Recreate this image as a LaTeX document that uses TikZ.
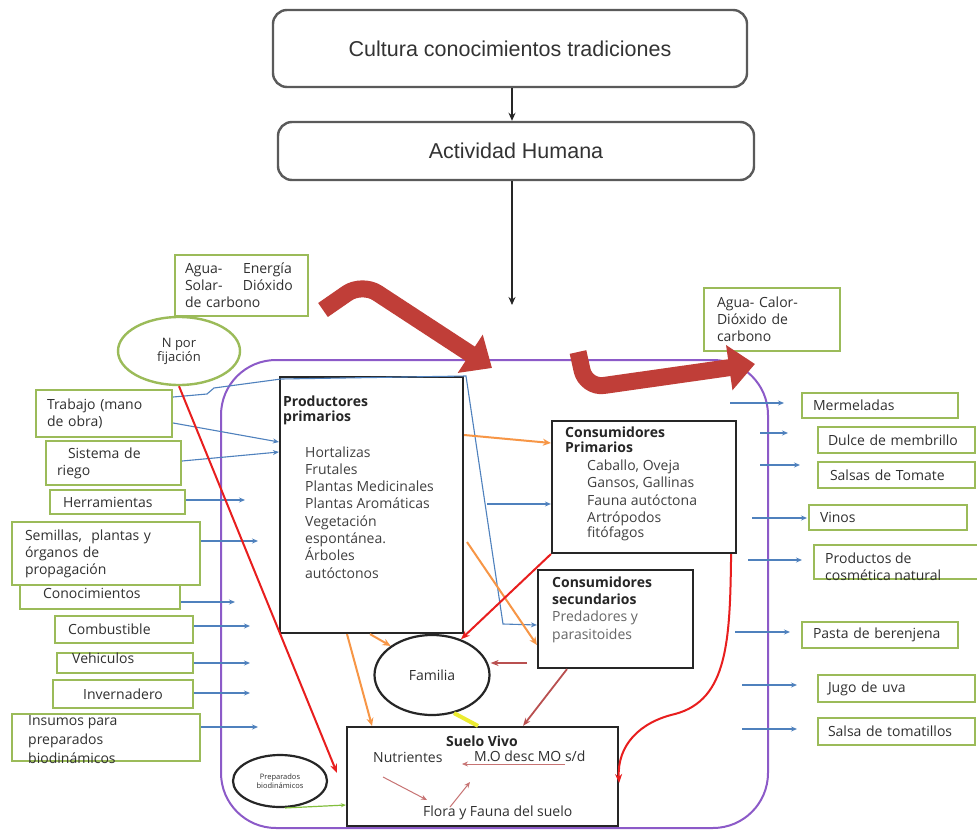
\documentclass[tikz,border=0pt]{standalone}
\usepackage{fontspec}
\setmainfont{Open Sans}
\newfontfamily\arialf{Liberation Sans}
\usetikzlibrary{arrows.meta,shapes.geometric,calc}
\definecolor{gboxc}{HTML}{9BBB59}
\definecolor{bluel}{HTML}{4F81BD}
\definecolor{orangel}{HTML}{F79646}
\definecolor{purp}{RGB}{140,90,200}
\definecolor{redl}{RGB}{232,30,30}
\definecolor{bigred}{RGB}{192,62,56}
\definecolor{brownl}{RGB}{185,80,80}
\definecolor{yell}{RGB}{236,236,50}
\definecolor{greenl}{RGB}{130,190,60}
\definecolor{txtg}{RGB}{48,48,48}
\definecolor{boxg}{RGB}{90,90,90}
% name L R T B pad options text
\newcommand\gbx[8]{%
  \pgfmathsetmacro\gbtw{#3-#2-2*#6}%
  \node[gb, inner xsep=#6pt, text width=\gbtw pt, minimum height={#5-#4}, #7] (#1) at ({(#2+#3)/2},{(#4+#5)/2}) {#8};}
\begin{document}
\begin{tikzpicture}[x=1pt,y=-1pt,
  lbl/.style={font=\fontsize{14}{17}\selectfont, text=txtg, inner sep=0pt},
  gb/.style={lbl, draw=gboxc, line width=2.4pt, fill=white, inner ysep=0pt},
  blk/.style={draw=black!85, line width=2.2pt, fill=white, inner sep=0pt},
  ttl/.style={font=\fontsize{14}{17}\selectfont\bfseries, text=black!85, inner sep=0pt, anchor=base west},
  itm/.style={lbl, anchor=base west},
  topbox/.style={draw=boxg, line width=2.4pt, rounded corners=14pt, fill=white, font=\arialf\fontsize{21.5}{24}\selectfont, text=black!80},
  ka/.style={draw=black!85, line width=1.6pt, -{Stealth[length=8pt,width=7pt]}},
  ba/.style={draw=bluel, line width=1.1pt, -{Stealth[length=6pt,width=5pt]}},
  oa/.style={draw=orangel, line width=2pt, -{Stealth[length=8pt,width=7pt]}},
  ra/.style={draw=redl, line width=2pt, -{Stealth[length=9pt,width=7pt]}},
  bra/.style={draw=brownl, line width=1.8pt, -{Stealth[length=8pt,width=6pt]}},
  sra/.style={draw=brownl!80, line width=1pt, -{Stealth[length=6pt,width=5pt]}},
  bigr/.style={draw=bigred, line width=17pt, line join=round, -{Triangle[length=26pt,width=44pt]}},
]
\fill[white] (0,0) rectangle (977,832);
\useasboundingbox (0,0) rectangle (977,832);

% ecosystem frame
\node[draw=purp, line width=2pt, rounded corners=55pt, minimum width=547pt, minimum height=468pt, inner sep=0pt] (eco) at (494.5,594) {};

% top boxes
\node[topbox, minimum width=474pt, minimum height=77pt] (cult) at (510,48.5) {Cultura conocimientos tradiciones};
\node[topbox, minimum width=476pt, minimum height=58pt] (act) at (516,151) {Actividad Humana};
\coordinate (axis) at (512,0);
\coordinate (actend) at (512,305);
\draw[ka] (cult.south -| axis) -- (act.north -| axis);
\draw[ka] (act.south -| axis) -- (actend);

% left green inputs
\gbx{aguaL}{175}{308}{255}{316}{10}{align=left}{\makebox[58pt][l]{Agua-}Energía\\\makebox[58pt][l]{Solar-}Dióxido\\de carbono}
\node[gb, ellipse, minimum width=122pt, minimum height=68pt, align=center, font=\fontsize{13}{14}\selectfont] (nfij) at (179,351) {N por\\fijación};
\gbx{trab}{36}{172}{390}{437}{11}{align=left}{Trabajo (mano\\de obra)}
\gbx{sist}{46}{181}{441}{485}{11}{align=left}{\hspace*{11pt}Sistema de\\riego}
\gbx{herr}{50}{185}{490}{514}{13}{align=left}{Herramientas}
\gbx{cono}{20}{180}{578}{609}{23}{align=left}{Conocimientos}
\gbx{semi}{12}{200}{522}{585}{13}{align=left}{Semillas,\ \ plantas y\\órganos de\\propagación}
\gbx{comb}{55}{193}{616}{643}{13}{align=left}{Combustible}
\gbx{vehi}{57}{193}{653}{673}{13}{align=left}{}
\node[itm] (vehiT) at (72,663) {Vehiculos};
\gbx{inve}{53}{193}{680}{708}{10}{align=center}{Invernadero}
\gbx{insu}{12}{200}{714}{761}{13}{align=left}{}
\node[itm] (insu1) at (28,725) {Insumos para};
\node[itm] (insu2) at (28,744) {preparados};
\node[itm] (insu3) at (28,763) {biodinámicos};

% right green outputs
\gbx{aguaR}{704}{840}{288}{351}{13}{align=left}{Agua- Calor-\\Dióxido de\\carbono}
\gbx{merm}{802}{958}{393}{418}{11}{align=left}{Mermeladas}
\gbx{dulc}{818}{975}{427}{453}{10}{align=left}{Dulce de membrillo}
\gbx{sals}{818}{975}{462}{488}{12}{align=left}{Salsas de Tomate}
\gbx{vino}{809}{967}{505}{530}{11}{align=left}{Vinos}
\gbx{cosm}{814}{985}{545}{579}{11}{align=left}{}
\node[itm] (cosm1) at (825,563) {Productos de};
\node[itm] (cosm2) at (825,580) {cosmética natural};
\gbx{past}{802}{958}{622}{648}{11}{align=left}{Pasta de berenjena}
\gbx{jugo}{818}{975}{675}{702}{10}{align=left}{Jugo de uva}
\gbx{tomt}{818}{975}{718}{745}{10}{align=left}{Salsa de tomatillos}

% black boxes
\node[blk, minimum width=183pt, minimum height=256pt] (prod) at (371.5,505) {};
\node[ttl] (prodT1) at (283,406) {Productores};
\node[ttl] (prodT2) at (283,421) {primarios};
\foreach \t [count=\i] in {Hortalizas,Frutales,Plantas Medicinales,Plantas Aromáticas,Vegetación,espontánea.,Árboles,autóctonos}
  \node[itm, text=black!75] (prodI\i) at (305,{457+17.3*(\i-1)}) {\t};

\node[blk, minimum width=184pt, minimum height=132pt] (consP) at (644,487) {};
\node[ttl] (cpT1) at (565,437) {Consumidores};
\node[ttl] (cpT2) at (565,452) {Primarios};
\node[itm, text=black!75] (cp1) at (587,470) {Caballo, Oveja};
\node[itm, text=black!75] (cp2) at (587,487) {Gansos, Gallinas};
\node[itm, text=black!75] (cp3) at (587,505) {Fauna autóctona};
\node[itm, text=black!75] (cp4) at (587,522) {Artrópodos};
\node[itm, text=black!75] (cp5) at (587,537) {fitófagos};

\node[blk, minimum width=155pt, minimum height=98pt] (consS) at (615.5,619) {};
\node[ttl] (csT1) at (552,587) {Consumidores};
\node[ttl] (csT2) at (552,604) {secundarios};
\node[itm, text=black!60] (cs1) at (552,621) {Predadores y};
\node[itm, text=black!60] (cs2) at (552,639) {parasitoides};

\node[blk, ellipse, lbl, minimum width=115pt, minimum height=80pt] (fam) at (432,675) {Familia};

\node[blk, minimum width=271pt, minimum height=99pt] (suelo) at (482.5,776.5) {};
\node[ttl, anchor=base] (sueloT) at (482,746) {Suelo Vivo};
\node[itm] (nutr) at (373,762) {Nutrientes};
\node[itm] (mo) at (474,761) {M.O desc MO s/d};
\node[itm] (flora) at (423,816) {Flora y Fauna del suelo};

\node[blk, ellipse, minimum width=94pt, minimum height=52pt, align=center, font=\fontsize{7.5}{9}\selectfont, text=txtg] (prep) at (280,781) {Preparados\\biodinámicos};

% blue connectors
\draw[ba] (trab.east |- 0,397) -- (207,394) -- (214,388) -- (281,379) -- (466,376) -- (503,624) -- (consS.west |- 0,625);
\coordinate (brc) at (487,504);
\draw[ba] (brc) -- (consP.west |- brc);
\draw[ba] (trab.east |- 0,423) -- (prod.west |- 0,442);
\draw[ba] (sist.east |- 0,461) -- (prod.west |- 0,452);
\foreach \nm/\yy/\xb in {herr/500/245, semi/541/258, cono/602/235, comb/626/250, vehi/663/250, inve/693/250, insu/727/258} {
  \coordinate (dst\nm) at (\xb,\yy);
  \draw[ba] (\nm.east |- dst\nm) -- (dst\nm);
}
\foreach \nm/\xa/\yy/\xb in {merm/730/403/784, dulc/760/433/788, sals/760/465/800, vino/752/518/807, cosm/748/560/802, past/735/632/790, jugo/742/685/797, tomt/742/729/797} {
  \coordinate (src\nm) at (\xa,\yy);
  \coordinate (dst\nm) at (\xb,\yy);
  \draw[ba] (src\nm) -- (dst\nm);
}

% orange connectors
\draw[oa] (prod.east |- 0,435) -- (consP.west |- 0,443);
\coordinate (oac) at (467,542);
\draw[oa] (oac) -- (consS.west |- 0,645);
\draw[oa] (prod.south -| 347,0) -- (suelo.north -| 372,0);
\draw[oa] (prod.south -| 370,0) -- (fam.north west);

% red connectors
\coordinate (nend) at (337,773);
\draw[ra] (nfij.south) -- (nend);
\draw[ra] (consP.south west) -- (fam.51);
\draw[ra] ([xshift=-6pt]consP.south east) .. controls (730,640) and (728,700) .. (675,714) .. controls (640,722) and (617,745) .. (suelo.east |- 0,783);

% brown connectors
\coordinate (brs) at (527,663);
\draw[bra] (brs) -- (fam.east |- brs);
\draw[bra] (consS.south -| 567,0) -- (suelo.north -| 523,0);

% yellow
\draw[draw=yell, line width=4pt] (fam.-60) -- (suelo.north -| 478,0);

% inside soil
\coordinate (s1a) at (383,777); \coordinate (s1b) at (427,800);
\coordinate (s2a) at (450,807); \coordinate (s2b) at (470,782);
\coordinate (s3a) at (565,764); \coordinate (s3b) at (462,764);
\draw[sra] (s1a) -- (s1b);
\draw[sra] (s2a) -- (s2b);
\draw[sra, line width=0.7pt] (s3a) -- (s3b);

% green preparados
\draw[draw=greenl, line width=1.2pt, -{Stealth[length=5pt,width=4pt]}] (prep.-80) -- (suelo.west |- 0,805);

% big red arrows
\coordinate (b1s) at (323,310); \coordinate (b1t) at (492,368);
\draw[bigr, rounded corners=18pt] (b1s) -- (362,283) -- (b1t);
\coordinate (b2s) at (578,352); \coordinate (b2t) at (755,364);
\draw[bigr, rounded corners=18pt] (b2s) -- (586,388) -- (b2t);
\end{tikzpicture}
\end{document}
